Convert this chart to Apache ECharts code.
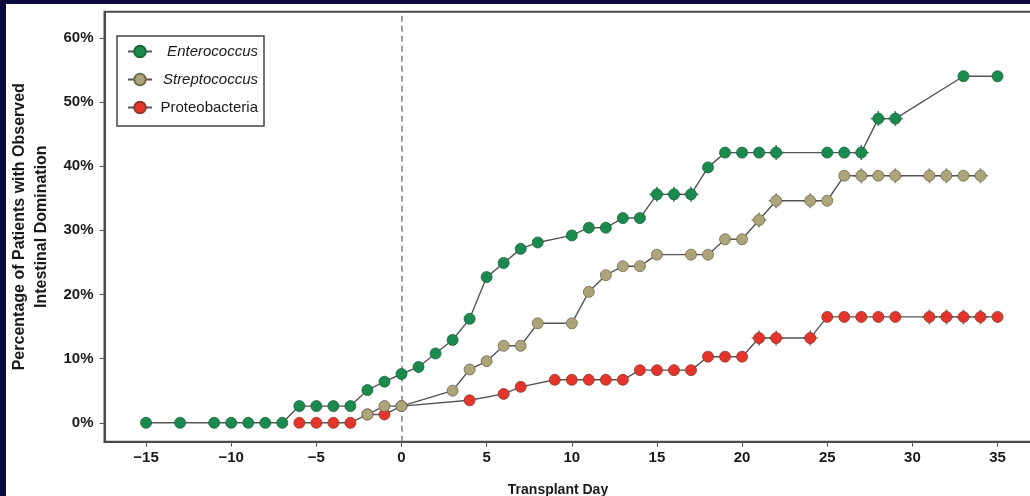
<!DOCTYPE html>
<html>
<head>
<meta charset="utf-8">
<script src="https://cdn.jsdelivr.net/npm/echarts@6/dist/echarts.min.js"></script>
<style>
  html, body { margin: 0; padding: 0; background: #0d0b3d; width: 1030px; height: 496px; overflow: hidden; }
  #chart { position: absolute; left: 6px; top: 4px; width: 1024px; height: 492px; background: #ffffff; }
</style>
</head>
<body>
<div id="chart"></div>
<script>
// ---- data ----
const seriesNames = ['Enterococcus', 'Streptococcus', 'Proteobacteria'];

const enteroDays = [-15, -13, -11, -10, -9, -8, -7, -6, -5, -4, -3, -2, -1, 0, 1, 2, 3, 4, 5, 6, 7, 8, 10, 11, 12, 13, 14, 15, 16, 17, 18, 19, 20, 21, 22, 25, 26, 27, 28, 29, 33, 35];
const enteroPct  = [0, 0, 0, 0, 0, 0, 0, 2.6, 2.6, 2.6, 2.6, 5.1, 6.4, 7.6, 8.7, 10.8, 12.9, 16.2, 22.7, 24.9, 27.1, 28.1, 29.2, 30.4, 30.4, 31.9, 31.9, 35.6, 35.6, 35.6, 39.8, 42.1, 42.1, 42.1, 42.1, 42.1, 42.1, 42.1, 47.4, 47.4, 54.0, 54.0];
const enteroCensored = [15, 16, 17, 22, 27, 28, 29];

const streptoDays = [-2, -1, 0, 3, 4, 5, 6, 7, 8, 10, 11, 12, 13, 14, 15, 17, 18, 19, 20, 21, 22, 24, 25, 26, 27, 28, 29, 31, 32, 33, 34];
const streptoPct  = [1.3, 2.6, 2.6, 5.0, 8.3, 9.6, 12.0, 12.0, 15.5, 15.5, 20.4, 23.0, 24.4, 24.4, 26.2, 26.2, 26.2, 28.6, 28.6, 31.6, 34.6, 34.6, 34.6, 38.5, 38.5, 38.5, 38.5, 38.5, 38.5, 38.5, 38.5];
const streptoCensored = [21, 22, 24, 27, 29, 31, 32, 34];

const proteoDays = [-6, -5, -4, -3, -2, -1, 0, 4, 6, 7, 9, 10, 11, 12, 13, 14, 15, 16, 17, 18, 19, 20, 21, 22, 24, 25, 26, 27, 28, 29, 31, 32, 33, 34, 35];
const proteoPct  = [0, 0, 0, 0, 1.3, 1.3, 2.6, 3.5, 4.5, 5.6, 6.7, 6.7, 6.7, 6.7, 6.7, 8.2, 8.2, 8.2, 8.2, 10.3, 10.3, 10.3, 13.2, 13.2, 13.2, 16.5, 16.5, 16.5, 16.5, 16.5, 16.5, 16.5, 16.5, 16.5, 16.5];
const proteoCensored = [21, 22, 24, 31, 32, 33, 34];

const xTickValues = [-15, -10, -5, 0, 5, 10, 15, 20, 25, 30, 35];
const yTickValues = [0, 10, 20, 30, 40, 50, 60];
const transplantDay = 0;

const xAxisTitle = 'Transplant Day';
const yAxisTitle = 'Percentage of Patients with Observed\nIntestinal Domination';

// ---- build ----
const colors = {
  Enterococcus:   { fill: '#1b8a4f', border: '#14663a' },
  Streptococcus:  { fill: '#ada47a', border: '#6f6a4c' },
  Proteobacteria: { fill: '#e5342b', border: '#8c3a2c' }
};

const xMin = -17.44, xMax = 37.23;
const yMin = -2.95, yMax = 64.06;
const FONT = 'Liberation Sans, Arial, sans-serif';

function makeSeries(name, days, pct, z, extra) {
  const c = colors[name];
  return Object.assign({
    name: name,
    type: 'line',
    z: z,
    data: days.map((d, i) => [d, pct[i]]),
    symbol: 'circle',
    symbolSize: 11,
    showAllSymbol: true,
    lineStyle: { color: '#555555', width: 1.4 },
    itemStyle: { color: c.fill, borderColor: c.border, borderWidth: 0.8 },
    emphasis: { disabled: true },
    animation: false
  }, extra || {});
}

// censoring "+" marks, drawn just under the circles
function makeCensor(name, days, pct, censored, z) {
  const c = colors[name];
  return {
    name: name + ' censored',
    type: 'scatter',
    z: z,
    data: days.map((d, i) => [d, pct[i]]).filter(p => censored.indexOf(p[0]) >= 0),
    symbol: 'path://M7,0L7,14M0,7L14,7',
    symbolSize: 15,
    itemStyle: { color: 'none', borderColor: c.border, borderWidth: 1.6, opacity: 0.8 },
    emphasis: { disabled: true },
    silent: true,
    animation: false
  };
}

const chart = echarts.init(document.getElementById('chart'), null, { renderer: 'canvas' });

const fmtX = v => (v < 0 ? '\u2212' + (-v) : String(v));

const option = {
  animation: false,
  backgroundColor: '#ffffff',
  textStyle: { fontFamily: FONT },
  grid: {
    left: 98.5, top: 7.7, width: 931, height: 430,
    outerBoundsMode: 'none',
    containLabel: false,
    show: true, borderColor: '#4a4a4a', borderWidth: 2, backgroundColor: '#ffffff'
  },
  legend: {
    orient: 'vertical',
    left: 111, top: 32,
    padding: [8, 6, 11, 10],
    itemGap: 13,
    itemWidth: 24, itemHeight: 14.5,
    itemTextGap: 3,
    backgroundColor: '#ffffff',
    borderColor: '#444444', borderWidth: 1.5,
    data: seriesNames,
    formatter: name => (name === 'Proteobacteria' ? '{n|' + name + '}' : '{i|' + name + '}'),
    textStyle: {
      color: '#1a1a1a', fontSize: 15,
      rich: {
        i: { width: 101, align: 'right', fontStyle: 'italic', fontSize: 15, color: '#1a1a1a', fontFamily: FONT },
        n: { width: 101, align: 'right', fontSize: 15, color: '#1a1a1a', fontFamily: FONT }
      }
    }
  },
  xAxis: {
    type: 'value',
    min: xMin, max: xMax,
    minInterval: 5, maxInterval: 5,
    name: xAxisTitle,
    nameLocation: 'middle',
    nameGap: 41,
    nameTextStyle: { fontSize: 14, fontWeight: 'bold', color: '#1a1a1a', padding: [0, 24, 0, 0] },
    axisLine: { show: true, onZero: false, lineStyle: { color: '#4a4a4a', width: 2 } },
    axisTick: { show: true, inside: false, length: 5, lineStyle: { color: '#555555', width: 1 },
                customValues: xTickValues },
    axisLabel: { show: true, fontSize: 15, fontWeight: 'bold', color: '#1a1a1a', margin: 9,
                 formatter: fmtX, customValues: xTickValues },
    splitLine: { show: false }
  },
  yAxis: {
    type: 'value',
    min: yMin, max: yMax,
    minInterval: 10, maxInterval: 10,
    name: yAxisTitle,
    nameLocation: 'middle',
    nameGap: 48,
    nameRotate: 90,
    nameTextStyle: { fontSize: 16, fontWeight: 'bold', color: '#1a1a1a', lineHeight: 22, align: 'center' },
    axisLine: { show: true, onZero: false, lineStyle: { color: '#4a4a4a', width: 2 } },
    axisTick: { show: true, inside: false, length: 5, lineStyle: { color: '#555555', width: 1 },
                customValues: yTickValues },
    axisLabel: { show: true, fontSize: 15, fontWeight: 'bold', color: '#1a1a1a', margin: 11,
                 formatter: '{value}%', customValues: yTickValues },
    splitLine: { show: false }
  },
  series: [
    makeSeries('Proteobacteria', proteoDays, proteoPct, 3, {
      markLine: {
        silent: true,
        symbol: ['none', 'none'],
        label: { show: false },
        lineStyle: { color: '#808080', type: [6, 4], width: 1.5 },
        data: [{ xAxis: transplantDay }],
        animation: false
      }
    }),
    makeSeries('Streptococcus', streptoDays, streptoPct, 5),
    makeSeries('Enterococcus', enteroDays, enteroPct, 7),
    makeCensor('Proteobacteria', proteoDays, proteoPct, proteoCensored, 2),
    makeCensor('Streptococcus', streptoDays, streptoPct, streptoCensored, 4),
    makeCensor('Enterococcus', enteroDays, enteroPct, enteroCensored, 6)
  ]
};

chart.setOption(option);
</script>
</body>
</html>
